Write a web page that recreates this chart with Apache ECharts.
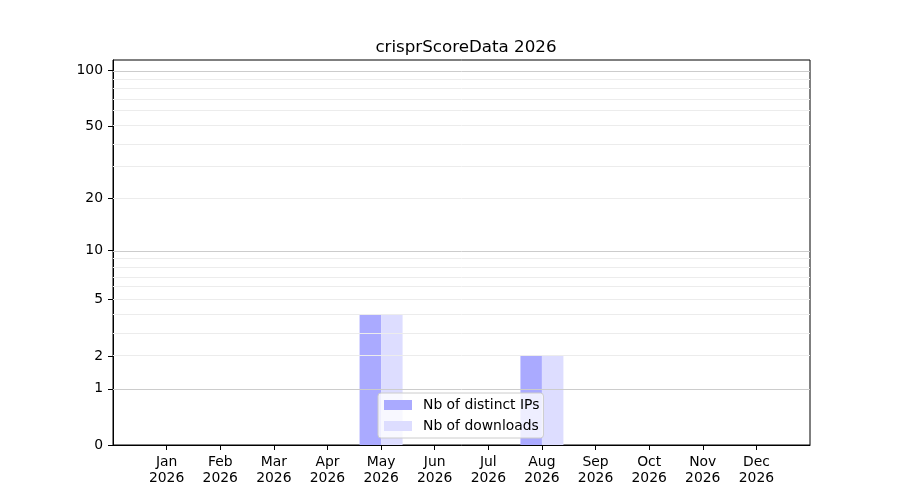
<!DOCTYPE html>
<html>
<head>
<meta charset="utf-8">
<script src="https://cdn.jsdelivr.net/npm/echarts@6/dist/echarts.min.js"></script>
<style>html,body{margin:0;padding:0;background:#fff;}#c{width:900px;height:500px;}</style>
</head>
<body>
<div id="c"></div>
<script>
var months = ['Jan','Feb','Mar','Apr','May','Jun','Jul','Aug','Sep','Oct','Nov','Dec'];
var yearLabel = '2026';
var ipsValues = [0,0,0,0,4,0,0,2,0,0,0,0];
var downloadsValues = [0,0,0,0,4,0,0,2,0,0,0,0];
var yTickValues = [0,1,2,5,10,20,50,100];
var majorGrid = [1,10,100];
var minorGrid = [2,3,4,5,6,7,8,9,20,30,40,50,60,70,80,90];
var yMaxValue = 114.2;

function f(v){ return Math.log10(1 + v); }
function inv(t){ return Math.pow(10, t) - 1; }

var FONT = 'DejaVu Sans';
var chart = echarts.init(document.getElementById('c'), null, {renderer:'canvas'});
var monthIdx = months.map(function(m,i){return i;});

var gridLines = majorGrid.map(function(v){
  return {yAxis: f(v), lineStyle:{color:'#cccccc', width:1, type:'solid'}};
}).concat(minorGrid.map(function(v){
  return {yAxis: f(v), lineStyle:{color:'#ececec', width:1, type:'solid'}};
}));

chart.setOption({
  animation:false,
  title:{text:'crisprScoreData ' + yearLabel, left:461, top:34, textAlign:'center',
    textStyle:{fontFamily:FONT, fontSize:16.7, fontWeight:'normal', color:'#000'}},
  grid:{left:113, right:90, top:60, bottom:55, show:true, borderColor:'#000', borderWidth:1, backgroundColor:'transparent'},
  legend:{
    orient:'vertical', left:378, top:393,
    itemWidth:28, itemHeight:10, itemGap:5,
    padding:[4,4,4,6],
    backgroundColor:'rgba(255,255,255,0.8)', borderColor:'#cccccc', borderWidth:1, borderRadius:3,
    icon:'rect',
    textStyle:{fontFamily:FONT, fontSize:13.9, color:'#000', lineHeight:16, padding:[0,0,0,6]},
    data:['Nb of distinct IPs','Nb of downloads'],
    z:10
  },
  xAxis:{
    type:'value', min:-1, max:12, interval:1,
    axisLine:{onZero:false, lineStyle:{color:'#000', width:1}},
    axisTick:{show:true, length:5, lineStyle:{color:'#000'}, customValues:monthIdx},
    axisLabel:{customValues:monthIdx, margin:9, color:'#000', fontFamily:FONT, fontSize:13.9, lineHeight:16,
      formatter:function(v){ var i=Math.round(v); return (i>=0 && i<12) ? months[i] + '\n' + yearLabel : ''; }},
    splitLine:{show:false}
  },
  yAxis:{
    type:'value', min:0, max:f(yMaxValue),
    axisLine:{show:true, onZero:false, lineStyle:{color:'#000', width:1}},
    axisTick:{show:true, length:5, lineStyle:{color:'#000'}, customValues:yTickValues.map(f)},
    axisLabel:{customValues:yTickValues.map(f), margin:10, color:'#000', fontFamily:FONT, fontSize:13.9,
      formatter:function(v){ return String(Math.round(inv(v))); }},
    splitLine:{show:false}
  },
  series:[
    {
      type:'line', data:[], silent:true, z:1,
      markLine:{silent:true, symbol:'none', label:{show:false}, animation:false, data:gridLines}
    },
    {
      name:'Nb of distinct IPs', type:'bar', z:2,
      barWidth:21.5, barGap:'0%',
      itemStyle:{color:'#aaaaff'},
      data: ipsValues.map(function(v,i){return [i, f(v)];})
    },
    {
      name:'Nb of downloads', type:'bar', z:2,
      barWidth:21.5, barGap:'0%',
      itemStyle:{color:'#ddddff'},
      data: downloadsValues.map(function(v,i){return [i, f(v)];})
    }
  ]
});
</script>
</body>
</html>
